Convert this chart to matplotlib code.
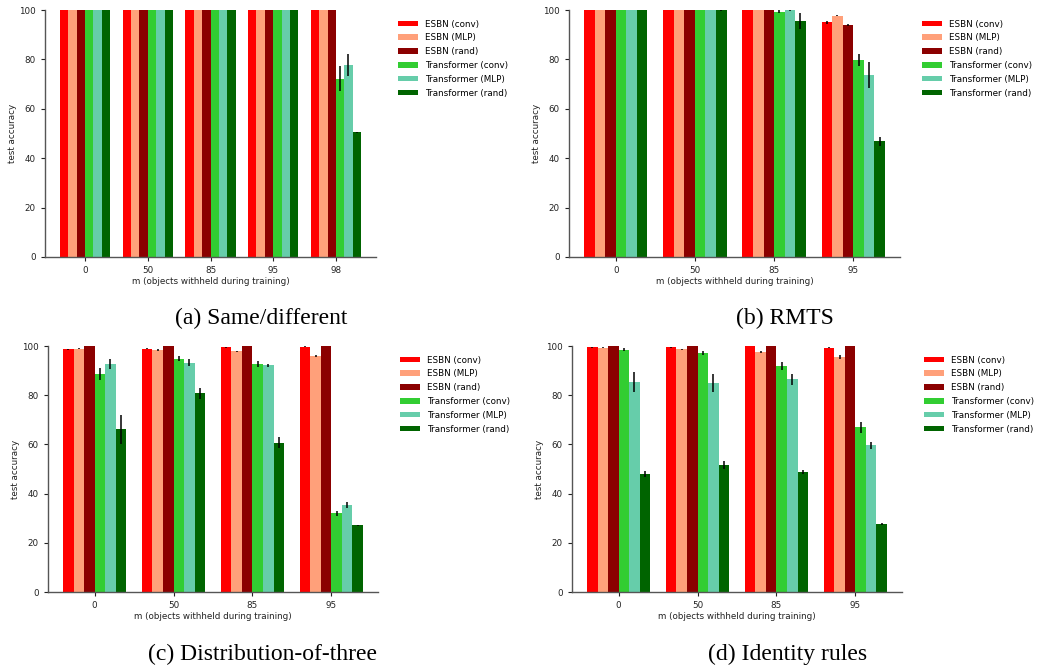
import matplotlib
matplotlib.use("Agg")
import matplotlib.pyplot as plt
import numpy as np

series = ["ESBN (conv)", "ESBN (MLP)", "ESBN (rand)",
          "Transformer (conv)", "Transformer (MLP)", "Transformer (rand)"]
colors = ["#FF0000", "#FFA07A", "#8B0000", "#32CD32", "#66CDAA", "#006400"]

# (a) Same/different
m_a = ["0", "50", "85", "95", "98"]
acc_a = [
    [100, 100, 100, 100, 100],
    [100, 100, 100, 100, 100],
    [100, 100, 100, 100, 100],
    [100, 100, 100, 100, 72.2],
    [100, 100, 100, 100, 77.7],
    [100, 100, 100, 100, 50.5],
]
err_a = [
    [0, 0, 0, 0, 0],
    [0, 0, 0, 0, 0],
    [0, 0, 0, 0, 0],
    [0, 0, 0, 0, 5.1],
    [0, 0, 0, 0, 4.5],
    [0, 0, 0, 0, 0.3],
]

# (b) RMTS
m_b = ["0", "50", "85", "95"]
acc_b = [
    [100, 100, 100, 95.0],
    [100, 100, 100, 97.6],
    [100, 100, 100, 93.9],
    [100, 100, 99.3, 79.8],
    [100, 100, 100, 73.6],
    [100, 100, 95.5, 46.8],
]
err_b = [
    [0, 0, 0, 0.6],
    [0, 0, 0, 0.2],
    [0, 0, 0, 0.3],
    [0, 0, 0.5, 2.4],
    [0, 0, 0.3, 5.2],
    [0, 0.3, 3.2, 1.7],
]

# (c) Distribution-of-three
m_c = ["0", "50", "85", "95"]
acc_c = [
    [98.6, 98.9, 99.5, 99.7],
    [98.9, 98.4, 97.8, 95.9],
    [100, 100, 100, 100],
    [88.6, 94.9, 92.7, 32.0],
    [92.7, 93.2, 92.1, 35.5],
    [66.1, 80.8, 60.7, 27.1],
]
err_c = [
    [0.3, 0.2, 0.2, 0.1],
    [0.2, 0.3, 0.3, 0.5],
    [0, 0, 0, 0],
    [2.5, 1.1, 1.3, 1.0],
    [2.0, 1.4, 0.7, 1.2],
    [6.0, 2.3, 2.3, 0.3],
]

# (d) Identity rules
m_d = ["0", "50", "85", "95"]
acc_d = [
    [99.5, 99.5, 100, 99.2],
    [99.2, 98.6, 97.6, 95.4],
    [100, 100, 100, 100],
    [98.4, 97.0, 91.9, 66.9],
    [85.4, 84.8, 86.4, 59.6],
    [48.0, 51.5, 48.8, 27.6],
]
err_d = [
    [0.2, 0.2, 0.1, 0.2],
    [0.2, 0.2, 0.4, 0.8],
    [0, 0, 0, 0],
    [0.6, 0.8, 1.6, 2.3],
    [3.9, 3.7, 2.2, 1.5],
    [1.1, 1.6, 0.8, 0.3],
]

panels = [
    (m_a, acc_a, err_a, "(a) Same/different", [45, 376, 10, 257], 261, 318),
    (m_b, acc_b, err_b, "(b) RMTS", [569, 900, 10, 257], 785, 318),
    (m_c, acc_c, err_c, "(c) Distribution-of-three", [48, 378, 346, 592], 263, 654),
    (m_d, acc_d, err_d, "(d) Identity rules", [572, 902, 346, 592], 788, 654),
]

W, H = 1038, 667
fig = plt.figure(figsize=(W / 100, H / 100), dpi=100)
fs = 6.3
spine_col = "#555555"
for m, acc, err, cap, (l, r, t, b), cx, cy in panels:
    ax = fig.add_axes([l / W, 1 - b / H, (r - l) / W, (b - t) / H])
    x = np.arange(len(m))
    w = 0.8 / 6
    for i, s in enumerate(series):
        ax.bar(x + (i - 2.5) * w, acc[i], width=w, color=colors[i],
               yerr=err[i], error_kw=dict(ecolor="black", elinewidth=1.1, capsize=0),
               label=s)
    ax.set_ylim(0, 100)
    ax.set_xticks(x)
    ax.set_xticklabels(m)
    ax.set_yticks([0, 20, 40, 60, 80, 100])
    ax.tick_params(labelsize=fs, colors="#222222", length=3, width=0.8)
    for sp in ["top", "right"]:
        ax.spines[sp].set_visible(False)
    for sp in ["left", "bottom"]:
        ax.spines[sp].set_color(spine_col)
        ax.spines[sp].set_linewidth(1.0)
    ax.set_ylabel("test accuracy", fontsize=fs, color="#222222", labelpad=1.5)
    ax.set_xlabel("m (objects withheld during training)", fontsize=fs,
                  color="#222222", labelpad=1.5)
    ax.legend(loc="upper left", bbox_to_anchor=((r + 18) / W, 1 - (t + 6) / H),
              bbox_transform=fig.transFigure, frameon=False, fontsize=fs,
              borderaxespad=0, handlelength=2.3, handleheight=0.6,
              labelspacing=0.55, handletextpad=0.8)
    fig.text(cx / W, 1 - cy / H, cap, ha="center", va="center",
             fontsize=17, family="Liberation Serif")

fig.savefig("out.png", dpi=100)
